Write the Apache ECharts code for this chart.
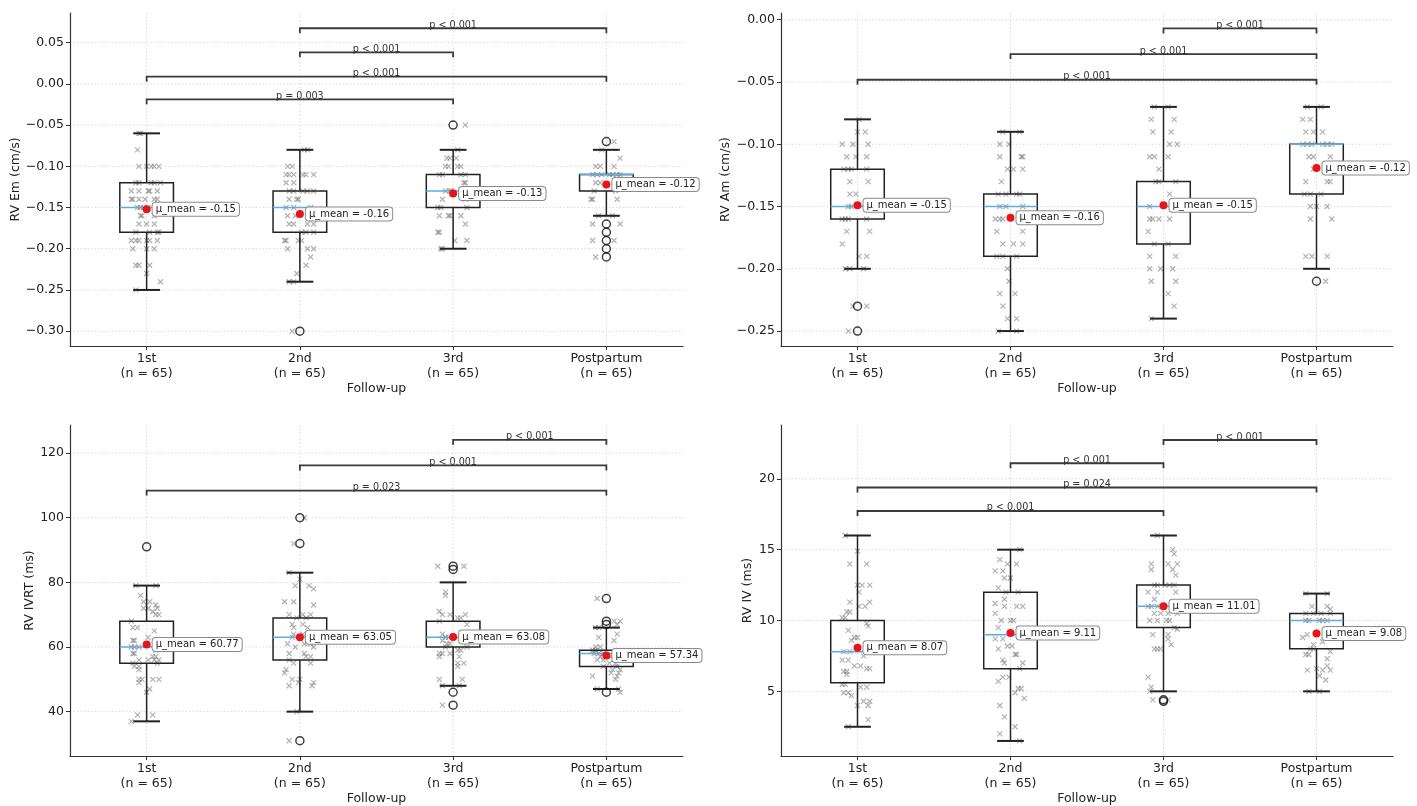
<!DOCTYPE html>
<html><head><meta charset="utf-8">
<script src="https://cdn.jsdelivr.net/npm/echarts@6/dist/echarts.min.js"></script>
<style>html,body{margin:0;padding:0;background:#fff}#c{width:1417px;height:806px}</style>
</head><body><div id="c"></div>
<script>
// ---------- DATA ----------
const categories = ['1st', '2nd', '3rd', 'Postpartum'];
const nLabels = ['(n = 65)', '(n = 65)', '(n = 65)', '(n = 65)'];

// RV Em
const emTicks = [-0.30, -0.25, -0.20, -0.15, -0.10, -0.05, 0.00, 0.05];
const emBox = [[-0.25,-0.18,-0.15,-0.12,-0.06],[-0.24,-0.18,-0.15,-0.13,-0.08],[-0.20,-0.15,-0.13,-0.11,-0.08],[-0.16,-0.13,-0.11,-0.11,-0.08]];
const emMean = [-0.152, -0.158, -0.133, -0.122];
const emOutliers = [[], [-0.30], [-0.05], [-0.07,-0.17,-0.18,-0.19,-0.20,-0.21]];
const emBrackets = [[2,4,0.0675,'p < 0.001'],[2,3,0.0383,'p < 0.001'],[1,4,0.0087,'p < 0.001'],[1,3,-0.0187,'p = 0.003']];
const emPoints = [
 [[-0.05,-0.06],[-0.04,-0.06],[-0.06,-0.08],[-0.05,-0.10],[0.00,-0.10],[0.03,-0.10],[0.05,-0.10],[0.08,-0.10],[-0.07,-0.12],[-0.05,-0.12],[0.03,-0.12],[0.05,-0.12],[0.09,-0.12],[-0.10,-0.13],[-0.05,-0.13],[0.01,-0.13],[0.02,-0.13],[0.07,-0.13],[-0.10,-0.14],[-0.09,-0.14],[-0.05,-0.14],[-0.01,-0.14],[0.05,-0.14],[0.07,-0.14],[-0.06,-0.15],[-0.04,-0.15],[-0.02,-0.15],[0.01,-0.15],[-0.04,-0.16],[-0.03,-0.16],[0.05,-0.16],[-0.05,-0.17],[0.00,-0.17],[0.05,-0.17],[-0.07,-0.18],[0.02,-0.18],[0.07,-0.18],[0.08,-0.18],[-0.10,-0.19],[-0.07,-0.19],[-0.05,-0.19],[0.00,-0.19],[0.02,-0.19],[0.07,-0.19],[-0.09,-0.20],[0.00,-0.20],[0.05,-0.20],[-0.07,-0.22],[-0.05,-0.22],[0.02,-0.22],[0.00,-0.23],[0.09,-0.24],[-0.07,-0.25]],
 [[0.03,-0.08],[0.05,-0.08],[-0.08,-0.10],[-0.05,-0.10],[-0.09,-0.11],[-0.07,-0.11],[-0.04,-0.11],[0.02,-0.11],[0.04,-0.11],[0.09,-0.11],[-0.09,-0.12],[-0.04,-0.12],[-0.07,-0.13],[-0.04,-0.13],[0.02,-0.13],[0.05,-0.13],[0.09,-0.13],[-0.07,-0.14],[-0.02,-0.14],[-0.01,-0.14],[-0.09,-0.15],[-0.04,-0.15],[0.07,-0.15],[-0.08,-0.16],[-0.03,-0.16],[0.08,-0.16],[-0.07,-0.17],[-0.04,-0.17],[0.05,-0.17],[0.09,-0.17],[0.01,-0.18],[0.04,-0.18],[0.09,-0.18],[-0.10,-0.19],[-0.09,-0.19],[-0.01,-0.19],[0.01,-0.19],[-0.08,-0.20],[0.05,-0.20],[0.09,-0.20],[0.07,-0.21],[0.04,-0.22],[-0.02,-0.23],[-0.07,-0.24],[-0.04,-0.24],[-0.05,-0.30]],
 [[0.08,-0.05],[0.03,-0.08],[-0.04,-0.09],[-0.02,-0.09],[0.02,-0.09],[-0.05,-0.10],[-0.03,-0.10],[0.03,-0.10],[0.05,-0.10],[-0.09,-0.11],[-0.07,-0.11],[0.05,-0.11],[0.08,-0.11],[0.07,-0.12],[0.08,-0.12],[-0.05,-0.13],[-0.02,-0.13],[-0.01,-0.13],[-0.07,-0.14],[0.08,-0.14],[-0.10,-0.15],[-0.08,-0.15],[0.09,-0.15],[-0.09,-0.16],[-0.03,-0.16],[-0.02,-0.16],[0.05,-0.16],[0.08,-0.17],[-0.10,-0.18],[-0.09,-0.18],[0.01,-0.19],[0.09,-0.19],[-0.08,-0.20],[-0.07,-0.20]],
 [[0.05,-0.07],[-0.03,-0.08],[0.09,-0.09],[-0.07,-0.10],[-0.04,-0.10],[0.05,-0.10],[-0.09,-0.11],[-0.06,-0.11],[-0.03,-0.11],[0.02,-0.11],[0.04,-0.11],[0.07,-0.11],[0.09,-0.11],[-0.07,-0.12],[-0.04,-0.12],[-0.08,-0.13],[0.06,-0.13],[-0.10,-0.14],[-0.09,-0.14],[0.07,-0.14],[-0.05,-0.16],[0.04,-0.16],[-0.09,-0.17],[0.09,-0.17],[-0.09,-0.19],[0.05,-0.19],[-0.07,-0.21]]
];

// RV Am
const amTicks = [-0.25, -0.20, -0.15, -0.10, -0.05, 0.00];
const amBox = [[-0.20,-0.16,-0.15,-0.12,-0.08],[-0.25,-0.19,-0.15,-0.14,-0.09],[-0.24,-0.18,-0.15,-0.13,-0.07],[-0.20,-0.14,-0.10,-0.10,-0.07]];
const amMean = [-0.149, -0.159, -0.149, -0.119];
const amOutliers = [[-0.23,-0.25], [], [], [-0.21]];
const amBrackets = [[3,4,-0.007,'p < 0.001'],[2,4,-0.0276,'p < 0.001'],[1,4,-0.0482,'p < 0.001']];
const amPoints = [
 [[0.01,-0.08],[0.00,-0.09],[0.05,-0.09],[-0.10,-0.10],[-0.03,-0.10],[0.07,-0.10],[-0.07,-0.11],[-0.01,-0.11],[0.06,-0.11],[-0.09,-0.12],[-0.06,-0.12],[-0.04,-0.12],[0.06,-0.12],[-0.05,-0.13],[0.07,-0.13],[-0.05,-0.14],[-0.01,-0.14],[-0.06,-0.15],[-0.04,-0.15],[-0.10,-0.16],[-0.08,-0.16],[-0.06,-0.16],[0.06,-0.16],[-0.07,-0.17],[0.08,-0.17],[-0.10,-0.18],[0.01,-0.19],[0.06,-0.19],[-0.08,-0.20],[-0.05,-0.20],[0.04,-0.20],[-0.03,-0.23],[0.06,-0.23],[-0.06,-0.25]],
 [[-0.05,-0.09],[0.06,-0.09],[-0.07,-0.10],[-0.01,-0.10],[-0.07,-0.11],[0.07,-0.11],[0.08,-0.11],[-0.02,-0.12],[0.02,-0.12],[0.08,-0.12],[-0.06,-0.13],[-0.08,-0.14],[-0.03,-0.14],[0.04,-0.14],[0.06,-0.14],[-0.07,-0.15],[-0.03,-0.15],[0.08,-0.15],[-0.10,-0.16],[-0.07,-0.16],[-0.05,-0.16],[-0.09,-0.17],[0.08,-0.17],[-0.05,-0.18],[0.02,-0.18],[0.08,-0.18],[-0.09,-0.19],[-0.05,-0.19],[0.04,-0.19],[-0.02,-0.20],[-0.01,-0.21],[-0.07,-0.22],[0.03,-0.22],[-0.05,-0.23],[-0.02,-0.24],[0.04,-0.24],[-0.08,-0.25],[0.04,-0.25]],
 [[-0.06,-0.07],[0.03,-0.07],[-0.08,-0.08],[0.07,-0.08],[-0.07,-0.09],[0.05,-0.09],[0.04,-0.10],[0.09,-0.10],[-0.09,-0.11],[-0.06,-0.11],[0.03,-0.11],[-0.03,-0.12],[-0.05,-0.13],[-0.03,-0.13],[0.08,-0.13],[0.04,-0.14],[-0.09,-0.15],[-0.09,-0.16],[-0.07,-0.16],[-0.03,-0.16],[0.04,-0.16],[-0.10,-0.17],[-0.06,-0.18],[0.03,-0.18],[-0.09,-0.19],[0.08,-0.19],[-0.09,-0.20],[-0.02,-0.20],[0.06,-0.20],[-0.08,-0.21],[0.08,-0.21],[0.03,-0.22],[0.07,-0.23],[-0.08,-0.24]],
 [[-0.06,-0.07],[0.03,-0.07],[-0.09,-0.08],[-0.04,-0.08],[-0.07,-0.09],[-0.02,-0.09],[0.04,-0.09],[-0.09,-0.10],[-0.06,-0.10],[-0.03,-0.10],[0.04,-0.10],[0.07,-0.10],[0.10,-0.10],[-0.05,-0.11],[-0.02,-0.11],[0.09,-0.11],[-0.02,-0.12],[-0.07,-0.13],[0.07,-0.13],[0.09,-0.13],[-0.08,-0.14],[-0.04,-0.14],[0.03,-0.14],[-0.04,-0.15],[0.00,-0.15],[0.07,-0.15],[-0.04,-0.16],[0.10,-0.16],[-0.07,-0.19],[-0.03,-0.19],[0.07,-0.19],[0.06,-0.21]]
];

// RV IVRT
const ivrtTicks = [40, 60, 80, 100, 120];
const ivrtBox = [[37,55,60,68,79],[40,56,63,69,83],[48,60,63,68,80],[47,54,58,59,66]];
const ivrtMean = [60.77, 63.05, 63.08, 57.34];
const ivrtOutliers = [[91], [100,92,31], [85,84,46,42], [75,68,67,46]];
const ivrtBrackets = [[3,4,124.1,'p < 0.001'],[2,4,116.2,'p < 0.001'],[1,4,108.4,'p = 0.023']];
const ivrtPoints = [
 [[-0.07,79],[0.06,79],[-0.04,76],[-0.02,74],[0.02,74],[0.06,73],[-0.02,72],[0.01,72],[0.07,72],[0.04,71],[0.06,70],[0.08,70],[-0.10,68],[-0.09,66],[-0.06,66],[0.05,65],[0.01,63],[-0.09,62],[-0.08,62],[-0.10,60],[-0.08,60],[-0.05,60],[0.06,59],[-0.09,58],[-0.08,58],[0.04,57],[0.06,57],[-0.05,56],[0.01,56],[0.05,56],[0.08,56],[-0.09,55],[0.07,55],[-0.08,54],[-0.05,54],[-0.05,53],[-0.05,50],[-0.03,50],[0.04,50],[0.08,50],[-0.05,49],[0.02,47],[0.00,46],[-0.06,39],[0.04,39],[-0.10,37]],
 [[0.03,100],[-0.04,92],[-0.07,83],[0.00,81],[-0.03,79],[0.06,79],[0.09,78],[-0.10,74],[-0.04,74],[0.09,73],[-0.07,70],[0.02,70],[0.07,70],[-0.02,69],[0.04,69],[-0.05,67],[0.02,67],[-0.04,66],[0.05,66],[-0.04,64],[0.02,64],[-0.05,63],[-0.08,61],[0.03,61],[0.07,61],[-0.03,60],[0.09,60],[-0.07,58],[0.03,58],[0.04,57],[0.07,57],[-0.07,56],[-0.04,55],[0.07,55],[-0.09,53],[-0.10,52],[-0.05,50],[0.00,50],[-0.01,49],[0.09,49],[-0.07,48],[0.08,48],[-0.02,40],[-0.07,31]],
 [[-0.10,85],[0.07,85],[-0.05,77],[-0.05,76],[-0.09,71],[-0.07,70],[-0.02,70],[0.08,70],[0.03,69],[0.05,69],[-0.09,68],[0.09,67],[-0.07,64],[-0.05,63],[-0.03,63],[-0.07,62],[-0.04,61],[-0.02,61],[-0.05,60],[0.09,60],[0.03,59],[0.05,59],[-0.09,58],[-0.07,58],[-0.02,58],[-0.09,57],[0.04,57],[0.03,55],[0.07,55],[0.03,54],[-0.09,50],[0.06,50],[-0.07,48],[0.04,48],[-0.07,42]],
 [[-0.06,75],[0.05,68],[0.09,68],[0.07,67],[-0.07,66],[-0.05,66],[0.07,64],[-0.05,63],[0.05,62],[-0.07,60],[-0.04,60],[-0.09,59],[-0.07,59],[-0.08,58],[-0.05,58],[-0.02,58],[-0.04,57],[0.03,57],[-0.06,56],[-0.02,56],[0.05,56],[0.02,55],[0.06,55],[-0.02,54],[0.07,54],[0.04,53],[0.09,53],[0.03,52],[0.08,52],[-0.09,51],[0.07,51],[0.06,50],[-0.06,47],[0.08,47],[0.09,46]]
];

// RV IV
const ivTicks = [5, 10, 15, 20];
const ivBox = [[2.5,5.6,7.8,10,16],[1.5,6.6,9,12,15],[5,9.5,11,12.5,16],[5,8,10,10.5,11.9]];
const ivMean = [8.07, 9.11, 11.01, 9.08];
const ivOutliers = [[], [], [4.4,4.3], []];
const ivBrackets = [[3,4,22.74,'p < 0.001'],[2,3,21.1,'p < 0.001'],[1,4,19.39,'p = 0.024'],[1,3,17.73,'p < 0.001']];
const ivPoints = [
 [[-0.08,16],[0.00,14.9],[-0.05,14],[0.06,14],[0.00,12.5],[0.03,12.5],[0.08,12.5],[0.01,12],[-0.05,11.3],[0.08,11.3],[0.01,11],[0.05,11],[-0.07,10.6],[-0.05,10.6],[-0.10,10.2],[-0.08,10.2],[0.06,9.8],[0.07,9.6],[-0.06,9.3],[-0.02,8.8],[0.00,8.8],[-0.04,8.6],[-0.09,7.8],[-0.05,7.8],[0.04,7.5],[-0.10,7.2],[-0.06,7.2],[-0.02,6.8],[0.02,6.8],[0.06,6.6],[0.08,6.6],[-0.09,6.4],[-0.07,6.4],[-0.07,6.2],[-0.10,5.5],[-0.08,5.5],[0.02,5.3],[0.06,5.3],[-0.09,4.9],[-0.06,4.9],[-0.04,4.7],[0.04,4.3],[0.08,4.3],[0.00,4.0],[0.07,4.0],[0.07,3.0],[-0.06,2.5]],
 [[0.06,15],[-0.07,14.3],[-0.02,14],[0.04,14],[-0.10,13.5],[-0.05,13.5],[-0.04,13],[0.00,13],[-0.08,12.3],[-0.03,12],[0.05,12],[-0.04,11.5],[-0.10,11.2],[-0.04,11],[0.04,11],[0.08,11],[-0.10,10.5],[-0.06,10],[0.00,10],[0.02,10],[-0.08,9.5],[-0.10,8.7],[-0.05,8.7],[-0.02,8.2],[0.01,8.2],[-0.08,8],[0.03,7.6],[0.04,7.6],[-0.05,7.2],[-0.04,7],[0.08,7],[0.06,6.6],[-0.05,6],[-0.01,6],[-0.08,5.7],[0.05,5.2],[0.07,5.2],[0.03,4.9],[0.09,4.5],[-0.07,4.0],[-0.04,3.2],[0.03,2.5],[-0.07,2.0],[0.06,1.5]],
 [[-0.04,16],[0.06,15],[0.07,14.7],[-0.08,14],[0.03,14],[0.09,14],[-0.08,13.6],[0.06,13.6],[0.08,13.2],[-0.06,12.5],[-0.04,12.5],[0.01,12.5],[0.04,12.5],[0.07,12.5],[-0.10,12],[-0.04,12],[0.08,12],[-0.06,11.5],[-0.10,11],[-0.08,11],[-0.04,11],[-0.06,10.5],[-0.02,10.5],[0.03,10.5],[0.09,10.5],[-0.09,10],[-0.04,10],[0.02,10],[0.04,10],[0.07,9.5],[0.09,9.4],[-0.07,9],[0.03,9],[0.03,8.7],[0.05,8.3],[-0.06,8],[-0.04,8],[-0.02,8],[-0.10,6],[-0.08,5.3],[-0.09,5],[-0.07,4.4],[0.03,4.4]],
 [[-0.07,11.9],[0.07,11.9],[-0.03,11],[0.07,11],[0.09,10.8],[-0.07,10.5],[-0.02,10.5],[0.03,10.5],[0.09,10.5],[-0.07,10],[-0.05,10],[0.02,10],[0.04,10],[0.07,10],[-0.06,9],[-0.09,8.8],[0.04,8.5],[-0.02,8.3],[-0.04,8],[-0.02,8],[0.09,7.8],[-0.07,7.6],[-0.05,7.6],[0.07,7.3],[0.07,6.8],[0.00,6.6],[-0.06,6.5],[0.04,6.5],[0.09,6.5],[0.02,6.1],[0.06,5.8],[-0.05,5],[0.02,5]]
];

// ---------- LAYOUT / STYLE ----------
const FONT = 'DejaVu Sans';
const panels = [
  {name:'RV Em (cm/s)', ticks:emTicks, box:emBox, mean:emMean, out:emOutliers, br:emBrackets, pts:emPoints, min:-0.318, max:0.086, dec:true,
   grid:{left:70, top:13, width:613, height:333}, nameGap:47},
  {name:'RV Am (cm/s)', ticks:amTicks, box:amBox, mean:amMean, out:amOutliers, br:amBrackets, pts:amPoints, min:-0.262, max:0.0054, dec:true,
   grid:{left:781, top:13, width:612, height:333}, nameGap:49},
  {name:'RV IVRT (ms)', ticks:ivrtTicks, box:ivrtBox, mean:ivrtMean, out:ivrtOutliers, br:ivrtBrackets, pts:ivrtPoints, min:26.24, max:128.7, dec:false,
   grid:{left:70, top:425, width:613, height:332}, nameGap:34},
  {name:'RV IV (ms)', ticks:ivTicks, box:ivBox, mean:ivMean, out:ivOutliers, br:ivBrackets, pts:ivPoints, min:0.43, max:23.8, dec:false,
   grid:{left:781, top:425, width:612, height:332}, nameGap:27}
];
const positions = [1, 2, 3, 4];

const grids = [], xAxes = [], yAxes = [], series = [];
panels.forEach((p, i) => {
  grids.push(Object.assign({}, p.grid));
  xAxes.push({
    gridIndex: i, type: 'value', min: 0.5, max: 4.5,
    name: 'Follow-up', nameLocation: 'middle', nameGap: 35,
    nameTextStyle: {fontSize: 12.5, color: '#222', fontFamily: FONT},
    axisLine: {show: true, onZero: false, lineStyle: {color: '#333', width: 1.2}},
    axisTick: {show: true, customValues: positions, length: 4, lineStyle: {color: '#333'}},
    axisLabel: {customValues: positions, margin: 5, fontSize: 12.5, lineHeight: 15, color: '#222', fontFamily: FONT,
      formatter: v => categories[Math.round(v) - 1] + '\n' + nLabels[Math.round(v) - 1]},
    splitLine: {show: false}
  });
  yAxes.push({
    gridIndex: i, type: 'value', min: p.min, max: p.max,
    name: p.name, nameLocation: 'middle', nameGap: p.nameGap,
    nameTextStyle: {fontSize: 12.5, color: '#222', fontFamily: FONT},
    axisLine: {show: true, onZero: false, lineStyle: {color: '#333', width: 1.2}},
    axisTick: {show: true, customValues: p.ticks, length: 4, lineStyle: {color: '#333'}},
    axisLabel: {customValues: p.ticks, margin: 6, fontSize: 12.5, color: '#222', fontFamily: FONT,
      formatter: v => p.dec ? v.toFixed(2).replace('-', '\u2212') : String(Math.round(v))},
    splitLine: {show: false}
  });

  // grid lines
  const gl = p.ticks.map(t => [0, t]).concat(positions.map(x => [1, x]));
  series.push({
    type: 'custom', xAxisIndex: i, yAxisIndex: i, z: 0, silent: true, data: gl,
    renderItem: (params, api) => {
      const cs = params.coordSys, kind = api.value(0), v = api.value(1);
      const st = {stroke: '#d2d2d2', lineWidth: 0.8, lineDash: [1.5, 2], fill: 'none'};
      if (kind === 0) {
        const y = api.coord([1, v])[1];
        return {type: 'line', shape: {x1: cs.x, y1: y, x2: cs.x + cs.width, y2: y}, style: st};
      }
      const x = api.coord([v, p.min])[0];
      return {type: 'line', shape: {x1: x, y1: cs.y, x2: x, y2: cs.y + cs.height}, style: st};
    }
  });

  // jittered points
  const ptData = [];
  p.pts.forEach((arr, g) => arr.forEach(d => ptData.push([positions[g] + d[0], d[1]])));
  series.push({
    type: 'scatter', xAxisIndex: i, yAxisIndex: i, z: 2, silent: true, data: ptData,
    symbol: 'path://M0,0L10,10M10,0L0,10', symbolSize: 5,
    itemStyle: {color: 'rgba(0,0,0,0)', borderColor: 'rgba(100,100,100,0.62)', borderWidth: 1.2}
  });

  // boxes
  series.push({
    type: 'custom', xAxisIndex: i, yAxisIndex: i, z: 3, silent: true,
    data: p.box.map((b, g) => [positions[g]].concat(b)),
    renderItem: (params, api) => {
      const x = api.value(0);
      const c = v => api.coord([x, v]);
      const half = api.size([0.35, 0])[0] / 2, cap = half / 2;
      const px = c(api.value(2))[0];
      const yLo = c(api.value(1))[1], yQ1 = c(api.value(2))[1], yMd = c(api.value(3))[1], yQ3 = c(api.value(4))[1], yHi = c(api.value(5))[1];
      const ls = {stroke: '#222', lineWidth: 1.5, fill: 'none'};
      const cs = {stroke: '#222', lineWidth: 2, fill: 'none'};
      return {type: 'group', children: [
        {type: 'line', shape: {x1: px, y1: yQ1, x2: px, y2: yLo}, style: ls},
        {type: 'line', shape: {x1: px, y1: yQ3, x2: px, y2: yHi}, style: ls},
        {type: 'line', shape: {x1: px - cap, y1: yLo, x2: px + cap, y2: yLo}, style: cs},
        {type: 'line', shape: {x1: px - cap, y1: yHi, x2: px + cap, y2: yHi}, style: cs},
        {type: 'rect', shape: {x: px - half, y: yQ3, width: 2 * half, height: yQ1 - yQ3}, style: ls},
        {type: 'line', shape: {x1: px - half, y1: yMd, x2: px + half, y2: yMd}, style: {stroke: '#5aaee0', lineWidth: 1.5}}
      ]};
    }
  });

  // outliers
  const outData = [];
  p.out.forEach((arr, g) => arr.forEach(v => outData.push([positions[g], v])));
  series.push({
    type: 'scatter', xAxisIndex: i, yAxisIndex: i, z: 4, silent: true, data: outData,
    symbol: 'circle', symbolSize: 8,
    itemStyle: {color: 'rgba(0,0,0,0)', borderColor: '#111', borderWidth: 1.5}
  });

  // means
  series.push({
    type: 'scatter', xAxisIndex: i, yAxisIndex: i, z: 5, silent: true,
    data: p.mean.map((m, g) => [positions[g], m]),
    symbol: 'circle', symbolSize: 8, itemStyle: {color: '#e8141b', opacity: 1},
    label: {show: true, position: 'right', distance: 2,
      formatter: prm => '\u03bc_mean = ' + p.mean[prm.dataIndex].toFixed(2),
      fontSize: 10, fontFamily: FONT, color: '#222', backgroundColor: '#fff',
      borderColor: '#8a8a8a', borderWidth: 1, borderRadius: 3, padding: [2, 3, 1, 3]}
  });

  // significance brackets
  series.push({
    type: 'custom', xAxisIndex: i, yAxisIndex: i, z: 6, silent: true,
    data: p.br.map(b => [b[0], b[1], b[2]]),
    renderItem: (params, api) => {
      const a = api.coord([api.value(0), api.value(2)]);
      const b = api.coord([api.value(1), api.value(2)]);
      const d = 5;
      return {type: 'group', children: [
        {type: 'polyline', shape: {points: [[a[0], a[1] + d], [a[0], a[1]], [b[0], b[1]], [b[0], b[1] + d]]},
         style: {stroke: '#3a3a3a', lineWidth: 1.8, fill: 'none'}},
        {type: 'text', style: {text: p.br[params.dataIndex][3], x: (a[0] + b[0]) / 2, y: a[1] + 2,
          align: 'center', verticalAlign: 'bottom', fontSize: 9.6, fontFamily: FONT, fill: '#333'}}
      ]};
    }
  });
});

const chart = echarts.init(document.getElementById('c'), null, {renderer: 'canvas'});
chart.setOption({
  animation: false,
  backgroundColor: '#fff',
  textStyle: {fontFamily: FONT},
  grid: grids, xAxis: xAxes, yAxis: yAxes, series: series
});
</script>
</body></html>
